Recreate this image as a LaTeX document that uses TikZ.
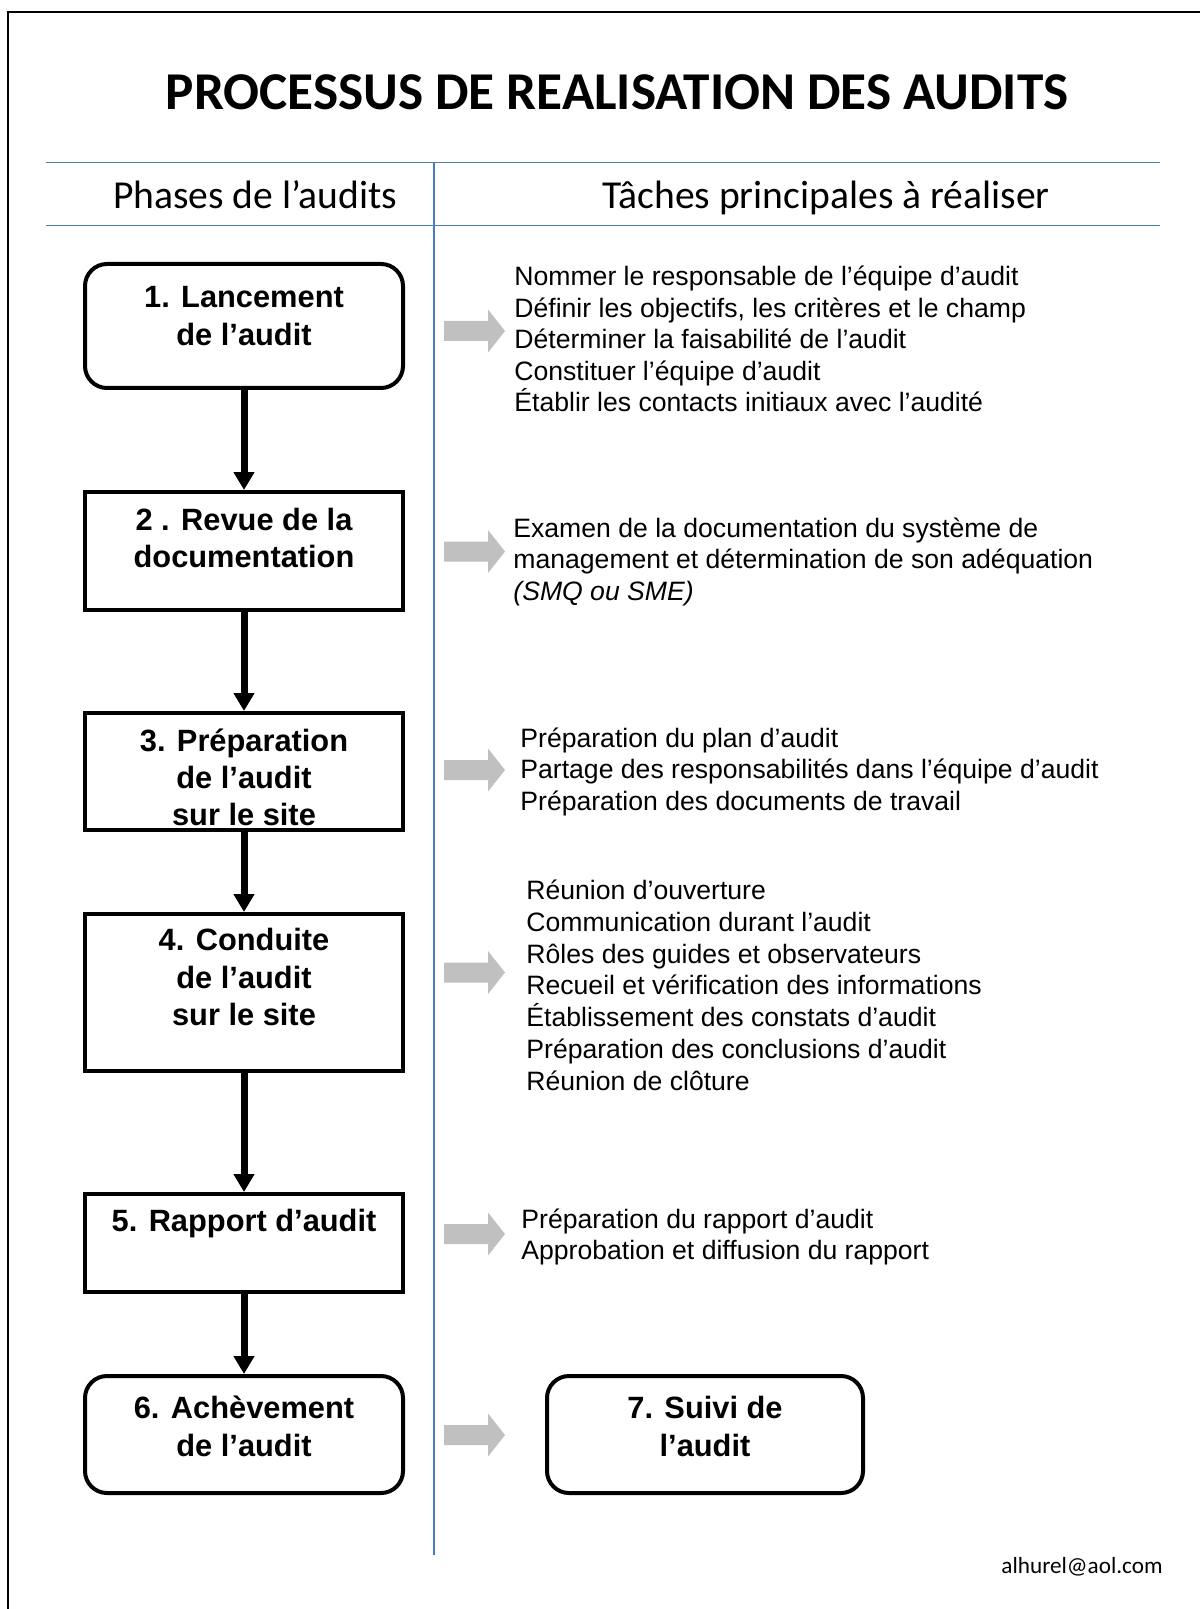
\documentclass[tikz,border=0pt]{standalone}
\usepackage{fontspec}
\setmainfont{Liberation Sans}
\newfontfamily\calfont{Carlito}
\usetikzlibrary{arrows.meta}
\definecolor{linblue}{RGB}{74,126,187}
\definecolor{arrowgray}{RGB}{192,192,192}
\begin{document}
\begin{tikzpicture}[x=0.5pt,y=-0.5pt,
  phasebox/.style={draw=black, line width=2pt, fill=white, inner sep=0pt, minimum width=159pt},
  rbox/.style={phasebox, rounded corners=11pt},
  btxt/.style={font=\fontsize{15.4pt}{18pt}\selectfont\bfseries, inner sep=0pt, anchor=base},
  ttxt/.style={font=\fontsize{13.3pt}{16pt}\selectfont, inner sep=0pt, anchor=base west},
  flow/.style={line width=3.5pt, -{Triangle[width=10pt,length=9pt]}},
  sepline/.style={draw=linblue, line width=0.8pt},
  garrow/.pic={\fill[arrowgray] (0,-10) -- (44,-10) -- (44,-21.5) -- (61,0) -- (44,21.5) -- (44,10) -- (0,10) -- cycle;}
]
\useasboundingbox (0,0) rectangle (1200,1609);
\fill[white] (0,0) rectangle (1200,1609);
% frame (left and top)
\draw[line width=1pt] (8,1609) -- (8,12) -- (1200,12);

% title
\node[font=\calfont\bfseries\fontsize{26.6pt}{30pt}\selectfont, anchor=base, inner sep=0pt] (title) at (617,110) {PROCESSUS DE REALISATION DES AUDITS};

% table lines
\coordinate (hl1a) at (46,162.5); \coordinate (hl1b) at (1160,162.5);
\coordinate (hl2a) at (46,225.5); \coordinate (hl2b) at (1160,225.5);
\coordinate (vla) at (434,162.5); \coordinate (vlb) at (434,1555);
\draw[sepline] (hl1a) -- (hl1b);
\draw[sepline] (hl2a) -- (hl2b);
\draw[sepline] (vla) -- (vlb);

% headers
\node[font=\calfont\fontsize{19.8pt}{24pt}\selectfont, anchor=base, inner sep=0pt] (h1) at (255,209) {Phases de l’audits};
\node[font=\calfont\fontsize{19.8pt}{24pt}\selectfont, anchor=base, inner sep=0pt] (h2) at (826,209) {Tâches principales à réaliser};

% phase boxes
\node[rbox, minimum height=62pt] (b1) at (244,326) {};
\node[phasebox, minimum height=59pt] (b2) at (244,551) {};
\node[phasebox, minimum height=58.5pt] (b3) at (244,771.5) {};
\node[phasebox, minimum height=78.5pt] (b4) at (244,992.5) {};
\node[phasebox, minimum height=49pt] (b5) at (244,1243) {};
\node[rbox, minimum height=58.5pt] (b6) at (244,1434.5) {};
\node[rbox, minimum width=158pt, minimum height=58.5pt] (b7) at (705,1434.5) {};

% box texts
\node[btxt] (b1a) at (244,308) {1. Lancement};
\node[btxt] (b1b) at (244,346) {de l’audit};
\node[btxt] (b2a) at (244,530) {2 . Revue de la};
\node[btxt] (b2b) at (244,567) {documentation};
\node[btxt] (b3a) at (244,751) {3. Préparation};
\node[btxt] (b3b) at (244,788) {de l’audit};
\node[btxt] (b3c) at (244,825) {sur le site};
\node[btxt] (b4a) at (244,950) {4. Conduite};
\node[btxt] (b4b) at (244,988) {de l’audit};
\node[btxt] (b4c) at (244,1025) {sur le site};
\node[btxt] (b5a) at (244,1231) {5. Rapport d’audit};
\node[btxt] (b6a) at (244,1418) {6. Achèvement};
\node[btxt] (b6b) at (244,1456) {de l’audit};
\node[btxt] (b7a) at (705,1418) {7. Suivi de};
\node[btxt] (b7b) at (705,1456) {l’audit};

% flow arrows
\draw[flow] (b1.south) -- (b2.north);
\draw[flow] (b2.south) -- (b3.north);
\draw[flow] (b3.south) -- (b4.north);
\draw[flow] (b4.south) -- (b5.north);
\draw[flow] (b5.south) -- (b6.north);

% gray arrows
\pic at (444,331) {garrow};
\pic at (444,551.5) {garrow};
\pic at (444,770) {garrow};
\pic at (444,972.5) {garrow};
\pic at (444,1234) {garrow};
\pic at (444,1435) {garrow};

% tasks
\node[ttxt] (t1a) at (514,285.7) {Nommer le responsable de l’équipe d’audit};
\node[ttxt] (t1b) at (514,317.2) {Définir les objectifs, les critères et le champ};
\node[ttxt] (t1c) at (514,348.7) {Déterminer la faisabilité de l’audit};
\node[ttxt] (t1d) at (514,380.2) {Constituer l’équipe d’audit};
\node[ttxt] (t1e) at (514,411.7) {Établir les contacts initiaux avec l’audité};

\node[ttxt] (t2a) at (513,537) {Examen de la documentation du système de};
\node[ttxt] (t2b) at (513,568.5) {management et détermination de son adéquation};
\node[ttxt] (t2c) at (513,600) {\itshape (SMQ ou SME)};

\node[ttxt] (t3a) at (520,747) {Préparation du plan d’audit};
\node[ttxt] (t3b) at (520,778.5) {Partage des responsabilités dans l’équipe d’audit};
\node[ttxt] (t3c) at (520,810) {Préparation des documents de travail};

\node[ttxt] (t4a) at (526,899.5) {Réunion d’ouverture};
\node[ttxt] (t4b) at (526,931.3) {Communication durant l’audit};
\node[ttxt] (t4c) at (526,963) {Rôles des guides et observateurs};
\node[ttxt] (t4d) at (526,994.8) {Recueil et vérification des informations};
\node[ttxt] (t4e) at (526,1026.6) {Établissement des constats d’audit};
\node[ttxt] (t4f) at (526,1058.4) {Préparation des conclusions d’audit};
\node[ttxt] (t4g) at (526,1090.2) {Réunion de clôture};

\node[ttxt] (t5a) at (521,1228) {Préparation du rapport d’audit};
\node[ttxt] (t5b) at (521,1259.5) {Approbation et diffusion du rapport};

% email
\node[font=\calfont\fontsize{11.6pt}{14pt}\selectfont, anchor=base east, inner sep=0pt] (mail) at (1163,1573) {alhurel@aol.com};
\end{tikzpicture}
\end{document}
